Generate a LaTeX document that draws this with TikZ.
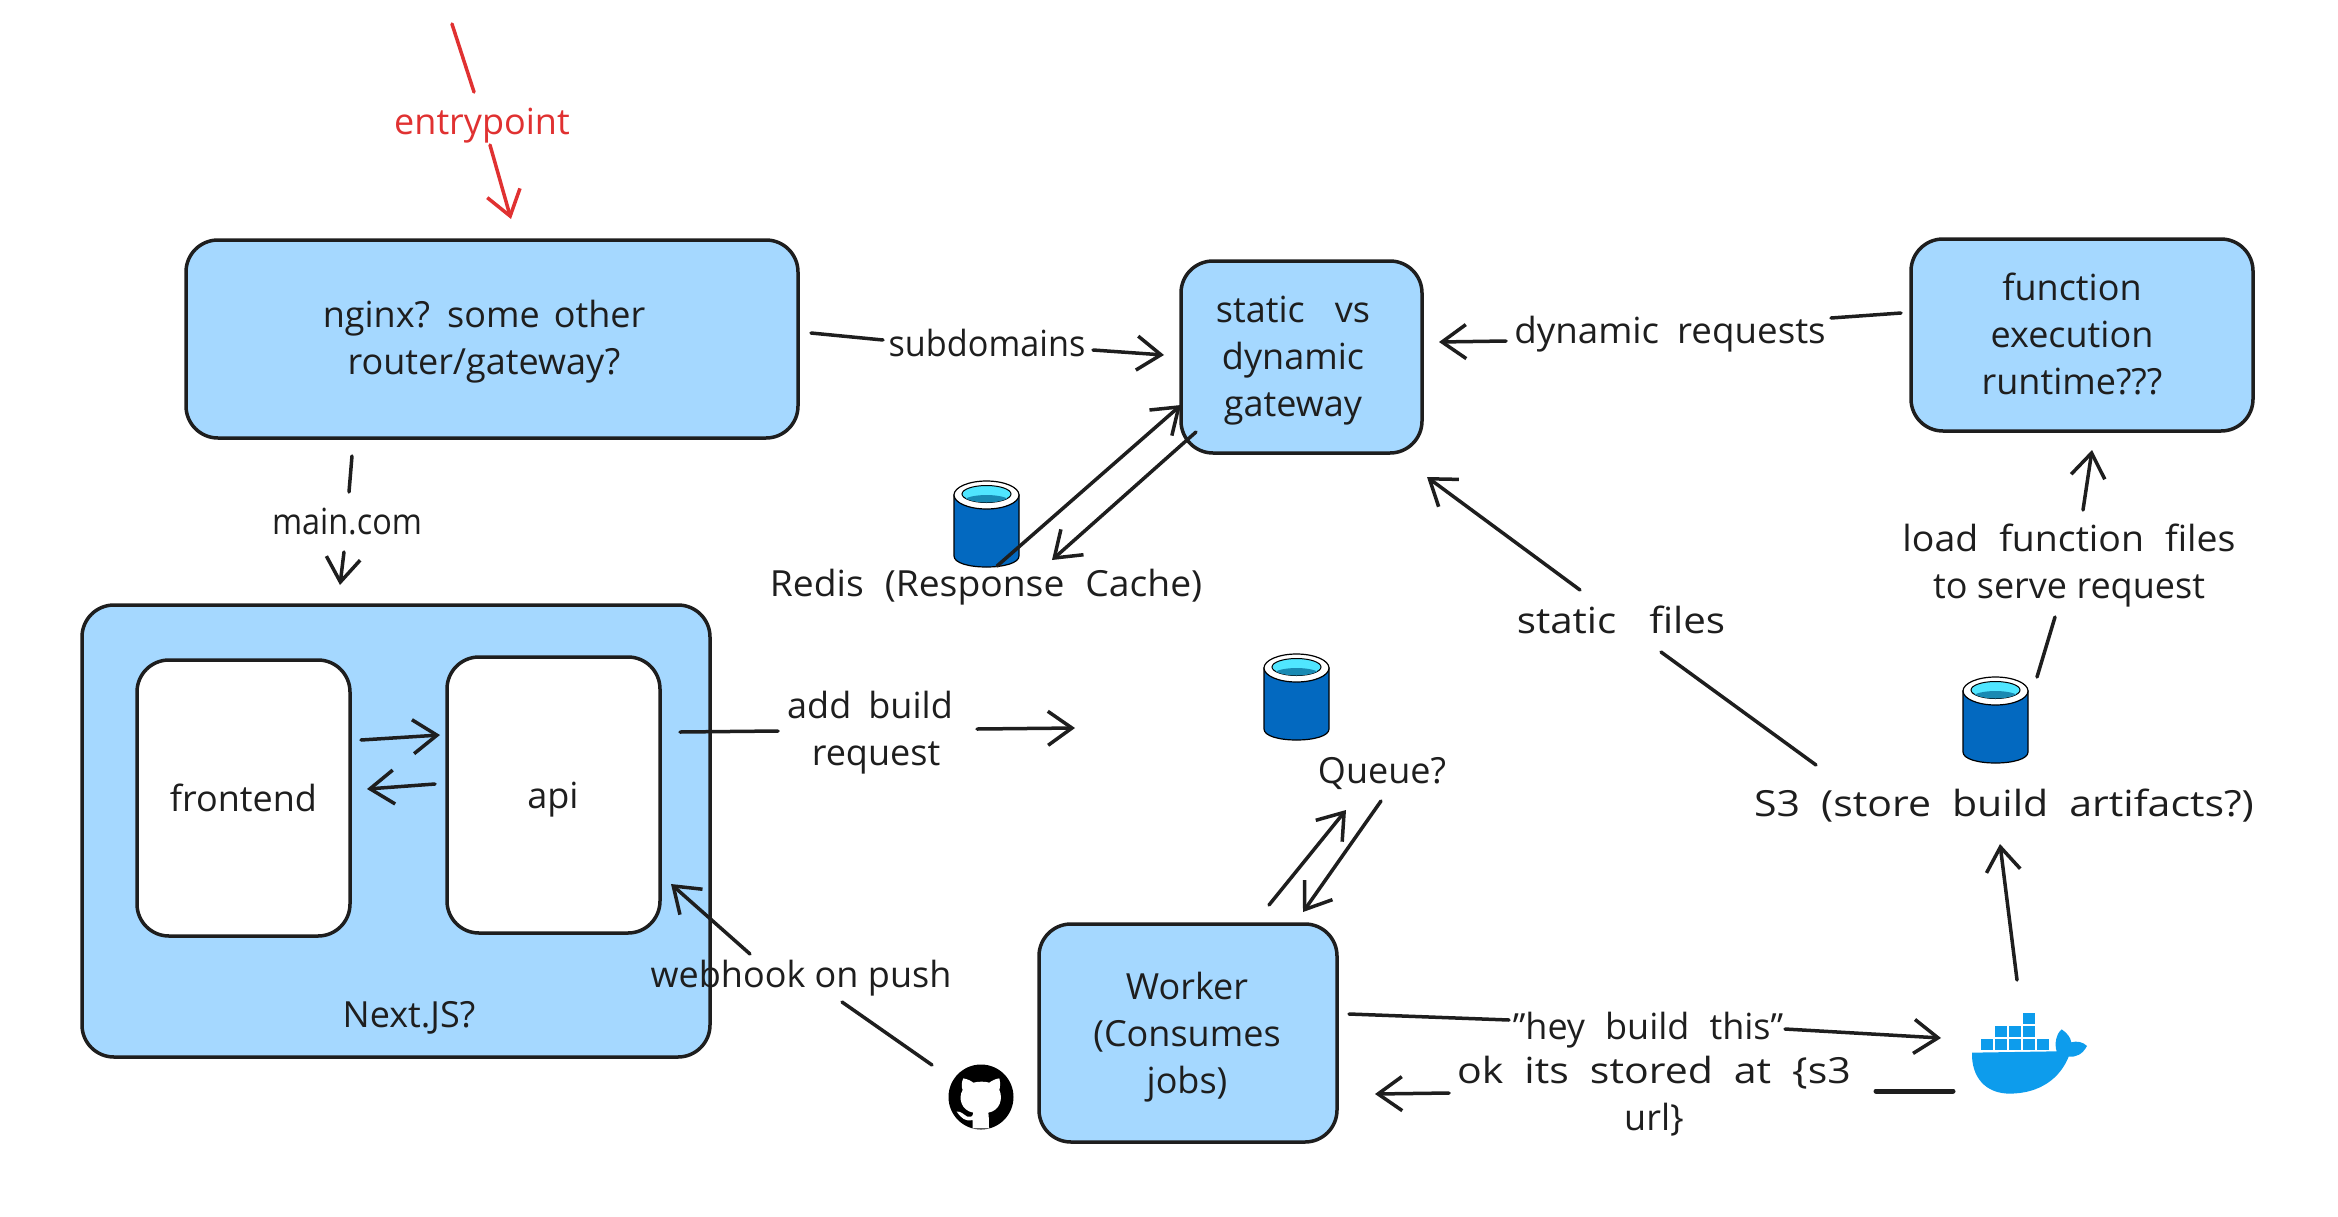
\documentclass[tikz,border=0pt]{standalone}
\usepackage{fontspec}
\setmainfont{Open Sans}
\usetikzlibrary{arrows.meta}
\definecolor{ink}{HTML}{1E1E1E}
\definecolor{boxblue}{HTML}{A5D8FF}
\definecolor{redink}{HTML}{E03131}
\definecolor{dbblue}{HTML}{0369C0}
\definecolor{dbcyan}{HTML}{50E6FF}
\definecolor{dbdark}{HTML}{198AB3}
\definecolor{dockerblue}{HTML}{0D9CEC}
\newcommand{\gapw}[1]{\spaceskip=#1\relax}
\newcommand{\tfit}[2]{\addfontfeature{FakeStretch=#1}\spaceskip=#2\relax}
\tikzset{
  x=1pt,y=-1pt,
  every node/.style={font=\fontsize{36}{47}\selectfont,text=ink,align=center,inner sep=0pt},
  box/.style={draw=ink,fill=boxblue,line width=3.5pt,rounded corners=32pt},
  inner box/.style={draw=ink,fill=white,line width=3.5pt,rounded corners=32pt},
  seg/.style={draw=ink,line width=3.5pt,line cap=round},
  arr/.style={seg,-{Straight Barb[length=24pt,width=34pt,line width=3.5pt]}},
  redseg/.style={seg,draw=redink},
  redarr/.style={arr,draw=redink},
}
\newcommand{\dbicon}[1]{%
  \begin{scope}[shift={(#1)}]
    \path[draw=black,line width=1.2pt,fill=dbblue] (0,14) -- (0,75) .. controls (0,82) and (15,86) .. (32.5,86) .. controls (50,86) and (65,82) .. (65,75) -- (65,14) -- cycle;
    \path[draw=black,line width=1.2pt,fill=white] (32.5,14) circle[x radius=32.5,y radius=14];
    \path[draw=black,line width=1pt,fill=dbcyan] (32.5,13) circle[x radius=24.5,y radius=8.5];
    \begin{scope}
      \clip (32.5,13) circle[x radius=24.5,y radius=8.5];
      \path[fill=dbdark] (8,20) .. controls (15,12) and (50,12) .. (57,20) -- (57,24) -- (8,24) -- cycle;
    \end{scope}
  \end{scope}}
\begin{document}
\begin{tikzpicture}
\useasboundingbox (0,0) rectangle (2338,1216);
% boxes
\node[box,minimum width=612pt,minimum height=198pt] (nginx) at (492,339) {};
\node (nginxlbl) at (484,342) {\gapw{14pt}nginx? some other\\router/gateway?};
\node[box,minimum width=241pt,minimum height=192pt] (gate) at (1301.5,357) {};
\node (gatelbl) at (1293,361) {\gapw{30pt}static vs\\dynamic\\gateway};
\node[box,minimum width=342pt,minimum height=192pt] (func) at (2082,335) {};
\node (funclbl) at (2072,334) {function\\execution\\runtime???};
\node[box,minimum width=628pt,minimum height=452pt] (next) at (396,831) {};
\node[inner box,minimum width=213pt,minimum height=276pt] (front) at (243.5,798) {frontend};
\node[inner box,minimum width=213pt,minimum height=276pt] (api) at (553.5,795) {};
\node (apilbl) at (553,800) {api};
\node (nextlbl) at (409,1018) {Next.JS?};
\node[box,minimum width=298pt,minimum height=218pt] (worker) at (1188,1033) {};
\node (workerlbl) at (1187,1037) {Worker\\(Consumes\\jobs)};
% icons
\dbicon{954,481}
\dbicon{1264,654}
\dbicon{1963,677}
\coordinate (redisicon) at (997,566);
% docker whale
\begin{scope}[shift={(1900,950)},x=0.3333pt,y=-0.3333pt]
  \path[fill=dockerblue] (216,308) -- (470,304) .. controls (462,280) and (470,250) .. (485,238)
    .. controls (500,248) and (512,262) .. (514,277) .. controls (530,272) and (550,276) .. (561,288)
    .. controls (548,312) and (530,322) .. (506,320) .. controls (480,385) and (420,430) .. (330,431)
    .. controls (255,431) and (214,380) .. (216,308) -- cycle;
  \foreach \a/\b in {243/268,285/268,327/268,369/268,411/268,285/228,327/228,369/228,369/188}
    \path[fill=dockerblue] (\a,\b) rectangle ++(36,33);
\end{scope}
% github
\path[fill=black] (981,1097) circle[radius=32.5];
\begin{scope}[shift={(920,1040)},x=0.3333pt,y=-0.3333pt]
  \path[fill=white] (130,115) .. controls (145,118) and (155,124) .. (160,128) .. controls (175,124) and (195,124) .. (208,128)
    .. controls (215,122) and (228,116) .. (238,115) .. controls (242,130) and (240,142) .. (238,150)
    .. controls (250,175) and (240,212) .. (205,218) .. controls (207,235) and (207,250) .. (207,265)
    -- (158,265) -- (158,240) .. controls (135,245) and (125,235) .. (110,215) .. controls (122,212) and (132,225) .. (142,230)
    .. controls (150,232) and (158,232) .. (160,218) .. controls (125,212) and (113,175) .. (128,150) .. controls (124,140) and (124,128) .. (130,115) -- cycle;
\end{scope}
\coordinate (github) at (932,1065);
% entrypoint
\node[text=redink] (entry) at (482,126) {entrypoint};
\coordinate (e1) at (452,24); \coordinate (e2) at (474,92);
\coordinate (e3) at (490,145); \coordinate (e4) at (511,219);
\draw[redseg] (e1) -- (e2);
\draw[redarr] (e3) -- (e4);
% subdomains
\node (sub) at (987,343) {\tfit{0.95}{12pt}subdomains};
\coordinate (s1) at (811,333); \coordinate (s2) at (883,340);
\coordinate (s3) at (1093,350); \coordinate (s4) at (1164,355);
\draw[seg] (s1) -- (s2);
\draw[arr] (s3) -- (s4);
% main.com
\node (main) at (347,522) {\tfit{0.9}{12pt}main.com};
\coordinate (m1) at (352,456); \coordinate (m2) at (349,492);
\coordinate (m3) at (344,552); \coordinate (m4) at (340,585);
\draw[seg] (m1) -- (m2);
\draw[arr] (m3) -- (m4);
% dynamic requests
\node (dyn) at (1670,334) {\tfit{1.02}{18pt}dynamic requests};
\coordinate (d1) at (1901,313); \coordinate (d2) at (1831,318);
\coordinate (d3) at (1506,341); \coordinate (d4) at (1439,342);
\draw[seg] (d1) -- (d2);
\draw[arr] (d3) -- (d4);
% redis
\node (redis) at (986,587) {\tfit{1.035}{21pt}Redis (Response Cache)};
\coordinate (r1) at (1181,405); \coordinate (r2) at (1196,432); \coordinate (r3) at (1052,560);
\draw[arr] (redisicon) -- (r1);
\draw[arr] (r2) -- (r3);
% add build request
\node (add) at (870,733) {\gapw{17pt}add build\\\hspace*{12pt}request};
\coordinate (b1) at (680,732); \coordinate (b2) at (778,731);
\coordinate (b3) at (977,729); \coordinate (b4) at (1075,728);
\draw[seg] (b1) -- (b2);
\draw[arr] (b3) -- (b4);
% queue
\node (queue) at (1382,773) {Queue?};
\coordinate (q1) at (1269,905); \coordinate (q2) at (1346,810);
\coordinate (q3) at (1381,801); \coordinate (q4) at (1303,912);
\draw[arr] (q1) -- (q2);
\draw[arr] (q3) -- (q4);
% frontend api
\coordinate (f1) at (361,740); \coordinate (f2) at (440,735);
\coordinate (f3) at (435,784); \coordinate (f4) at (367,789);
\draw[arr] (f1) -- (f2);
\draw[arr] (f3) -- (f4);
% webhook
\node (hook) at (801,978) {webhook on push};
\coordinate (w2) at (842,1002); \coordinate (w3) at (750,954); \coordinate (w4) at (671,884);
\draw[seg] (github) -- (w2);
\draw[arr] (w3) -- (w4);
% static files
\node (static) at (1621,620) {\tfit{1.12}{33pt}static files};
\coordinate (t1) at (1816,765); \coordinate (t2) at (1661,652);
\coordinate (t3) at (1580,590); \coordinate (t4) at (1427,477);
\draw[seg] (t1) -- (t2);
\draw[arr] (t3) -- (t4);
% s3
\node (s3lbl) at (2004,806) {\tfit{1.14}{21pt}S3 (store build artifacts?)};
% load function
\node (load) at (2069,566) {\tfit{1.04}{21pt}load function files\\to serve request};
\coordinate (l1) at (2037,677); \coordinate (l2) at (2055,617);
\coordinate (l3) at (2083,510); \coordinate (l4) at (2092,450);
\draw[seg] (l1) -- (l2);
\draw[arr] (l3) -- (l4);
% docker to s3
\coordinate (k1) at (2017,980); \coordinate (k2) at (2000,844);
\draw[arr] (k1) -- (k2);
% hey build this
\node (hey) at (1648,1030) {\gapw{20pt}"hey build this"};
\coordinate (h1) at (1349,1014); \coordinate (h2) at (1509,1020);
\coordinate (h3) at (1785,1029); \coordinate (h4) at (1941,1038);
\draw[seg] (h1) -- (h2);
\draw[arr] (h3) -- (h4);
% ok its stored
\node (ok) at (1654,1096) {\tfit{1.14}{21pt}ok its stored at \{s3\\url\}};
\coordinate (o1) at (1953,1091); \coordinate (o2) at (1876,1091);
\coordinate (o3) at (1449,1093); \coordinate (o4) at (1375,1094);
\draw[seg,line width=5pt] (o1) -- (o2);
\draw[arr] (o3) -- (o4);
\end{tikzpicture}
\end{document}
